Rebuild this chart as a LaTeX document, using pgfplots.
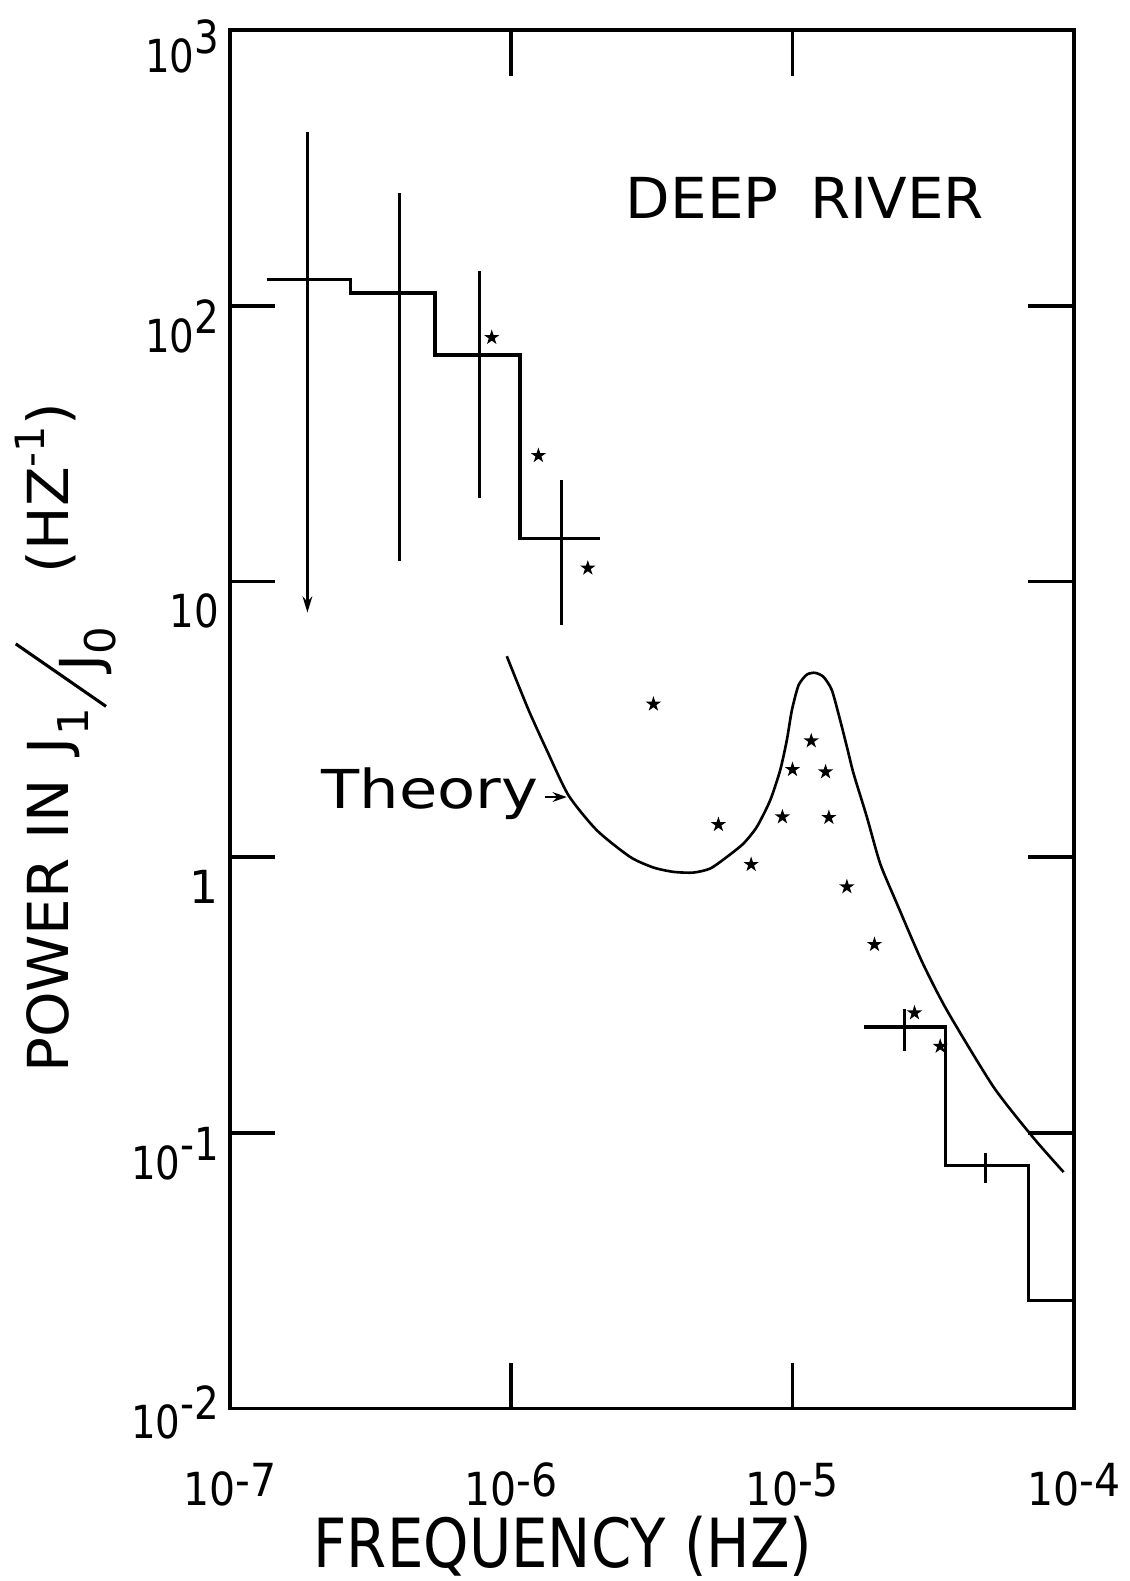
\documentclass[border=0pt]{standalone}
\usepackage{fontspec}
\setmainfont{DejaVu Sans}
\usepackage{graphicx}
\usepackage{pgfplots}
\pgfplotsset{compat=1.18}
\usetikzlibrary{arrows.meta}

% filled five-pointed star
\pgfdeclareplotmark{fstar}{%
  \pgfpathmoveto{\pgfpointpolar{90}{\pgfplotmarksize}}%
  \pgfpathlineto{\pgfpointpolar{234}{\pgfplotmarksize}}%
  \pgfpathlineto{\pgfpointpolar{18}{\pgfplotmarksize}}%
  \pgfpathlineto{\pgfpointpolar{162}{\pgfplotmarksize}}%
  \pgfpathlineto{\pgfpointpolar{306}{\pgfplotmarksize}}%
  \pgfpathclose
  \pgfusepathqfillstroke}

\newcommand{\ty}[1]{\scalebox{0.85}[1]{10\raisebox{0.42em}{#1}}}
\newcommand{\tx}[1]{\scalebox{0.9}[1]{10\raisebox{0.2em}{#1}}}
\newcommand{\sub}[2]{\raisebox{#1}{\fontsize{10.5}{10.5}\selectfont #2}}

\begin{document}
\begin{tikzpicture}
\begin{axis}[
    xmode=log, ymode=log,
    scale only axis,
    width=209.25pt, height=341.75pt,
    xmin=1e-7, xmax=1e-4,
    ymin=1e-2, ymax=1e3,
    xtick={1e-7,1e-6,1e-5,1e-4},
    ytick={1e-2,1e-1,1,10,100,1000},
    xticklabels={\tx{-7},\tx{-6},\tx{-5},\tx{-4}},
    yticklabels={\raisebox{4pt}{\ty{-2}},\ty{-1},1,\scalebox{0.85}[1]{10},\ty{2},\raisebox{1pt}{\ty{3}}},
    xminorticks=false, yminorticks=false,
    tick align=inside, tick pos=both,
    major tick length=11.25pt,
    axis line style={line width=0.9pt},
    every tick/.style={black, line width=0.9pt},
    xticklabel style={anchor=base, inner sep=0pt, yshift=-24pt,
      font=\fontsize{11.3}{12}\selectfont},
    yticklabel style={anchor=base east, inner sep=0pt, xshift=-2.5pt, yshift=-11.5pt,
      font=\fontsize{11.3}{12}\selectfont},
    clip=false,
  ]

  % histogram steps
  \addplot[const plot, no marks, black, line width=0.85pt] coordinates {
    (1.35e-7,124.5) (2.69e-7,111.4) (5.36e-7,66.3) (1.076e-6,14.3) (2.07e-6,14.3)
  };
  \addplot[const plot, no marks, black, line width=0.85pt] coordinates {
    (1.789e-5,0.2424) (3.492e-5,0.0762) (6.91e-5,0.02469) (1e-4,0.02469)
  };

  % error bars
  \addplot[no marks, black, line width=0.75pt, -{Stealth[length=4pt,width=2.4pt]}]
    coordinates {(1.887e-7,429.2) (1.887e-7,7.72)};
  \addplot[no marks, black, line width=0.75pt] coordinates {(4.003e-7,256.8) (4.003e-7,11.9)};
  \addplot[no marks, black, line width=0.75pt] coordinates {(7.71e-7,133.4) (7.71e-7,20.05)};
  \addplot[no marks, black, line width=0.75pt] coordinates {(1.509e-6,23.4) (1.509e-6,6.95)};
  \addplot[no marks, black, line width=0.75pt] coordinates {(2.494e-5,0.2825) (2.494e-5,0.1982)};
  \addplot[no marks, black, line width=0.75pt] coordinates {(4.845e-5,0.0848) (4.845e-5,0.0658)};

  % theory curve
  \addplot[smooth, tension=0.4, no marks, black, line width=0.65pt] coordinates {
    (9.648e-7,5.362) (1.0612e-6,4.207) (1.1678e-6,3.320) (1.3384e-6,2.446)
    (1.5982e-6,1.679) (2.0153e-6,1.2531) (2.6484e-6,1.0025) (3.2040e-6,0.9178)
    (3.7762e-6,0.8851) (4.4449e-6,0.8799) (5.0997e-6,0.9101) (5.843e-6,1.0025)
    (6.6953e-6,1.1214) (7.4704e-6,1.2886) (8.3329e-6,1.6094) (9.0418e-6,2.0687)
    (9.5484e-6,2.6584) (9.9506e-6,3.4143) (1.0508e-5,4.207) (1.1252e-5,4.600)
    (1.2037e-5,4.667) (1.2892e-5,4.5115) (1.3806e-5,4.0372) (1.4774e-5,3.1408)
    (1.5614e-5,2.5153) (1.6487e-5,2.0120) (1.8384e-5,1.4004) (2.0499e-5,0.9484)
    (2.3495e-5,0.6799) (2.8843e-5,0.4189) (3.5400e-5,0.2785) (5.1844e-5,0.14683)
    (7.1926e-5,0.09588) (9.2012e-5,0.07210)
  };
  \addplot[no marks, black, line width=0.6pt, -{Stealth[length=3.5pt,width=2.4pt]}]
    coordinates {(1.321e-6,1.654) (1.577e-6,1.654)};

  % observed points
  \addplot[only marks, mark=fstar, mark size=1.35pt, black] coordinates {
    (8.53e-7,76.8) (1.25e-6,28.65) (1.873e-6,11.19) (3.204e-6,3.592)
    (5.455e-6,1.314) (7.13e-6,0.941) (9.21e-6,1.401) (1.0e-5,2.08)
    (1.166e-5,2.643) (1.311e-5,2.04) (1.347e-5,1.394) (1.561e-5,0.781)
    (1.957e-5,0.4824) (2.715e-5,0.2724) (3.351e-5,0.2062)
  };
\end{axis}

\node[anchor=base west, inner sep=0pt] at (98pt,295.1pt)
  {\resizebox{88.75pt}{\height}{\fontsize{14}{14}\selectfont DEEP\hspace{0.55em}RIVER}};
\node[anchor=base west, inner sep=0pt] at (22.5pt,148.8pt)
  {\resizebox{53.75pt}{\height}{\fontsize{13.3}{14}\selectfont Theory}};
\node[anchor=base, inner sep=0pt] at (82.6pt,-39.5pt)
  {\resizebox{123.6pt}{\height}{\fontsize{16.8}{17}\selectfont FREQUENCY (HZ)}};
\node[anchor=base, inner sep=0pt, rotate=90] at (-40.1pt,166.25pt)
  {\resizebox{166pt}{\height}{\fontsize{14}{14}\selectfont POWER IN\hspace{6pt}%
    J\hspace{0.5pt}\sub{-5pt}{1}%
    \raisebox{-9.6pt}{\rotatebox{56}{\rule{27pt}{0.75pt}}}%
    \hspace{-7pt}\raisebox{-8pt}{J}\sub{-11.7pt}{0}%
    \hspace{13pt}(HZ\raisebox{0.42em}{\fontsize{10}{10}\selectfont -1})}};

\pgfresetboundingbox
\path (-57pt,-42.75pt) rectangle (223pt,349.25pt);
\end{tikzpicture}
\end{document}
